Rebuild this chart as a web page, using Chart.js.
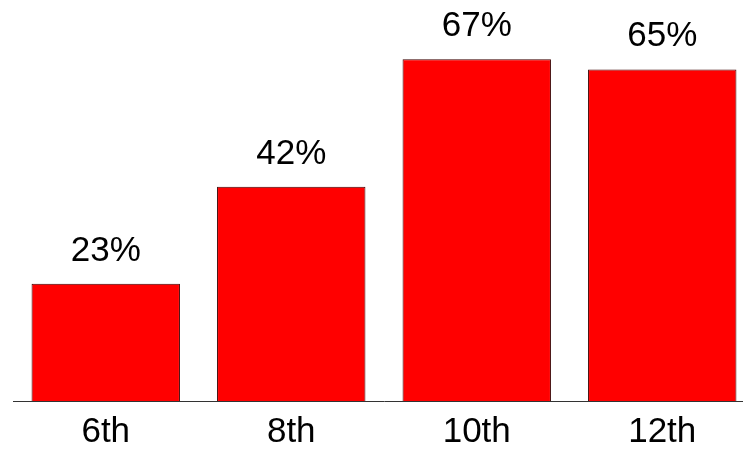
<!DOCTYPE html>
<html>
<head>
<meta charset="utf-8">
<script src="https://cdn.jsdelivr.net/npm/chart.js@4"></script>
<style>
  html, body { margin: 0; padding: 0; background: #fff; overflow: hidden; }
  #wrap { width: 755px; height: 449px; position: relative; }
</style>
</head>
<body>
<div id="wrap"><canvas id="myChart"></canvas></div>
<script>
const grades = ["6th", "8th", "10th", "12th"];
const percents = [23, 42, 67, 65];

// draws the "NN%" text above each bar
const barLabels = {
    id: "barLabels",
    afterDatasetsDraw(chart) {
        const c = chart.ctx;
        c.save();
        c.font = "35px 'Liberation Sans', Arial, sans-serif";
        c.fillStyle = "#000";
        c.textAlign = "center";
        c.textBaseline = "alphabetic";
        chart.getDatasetMeta(0).data.forEach((bar, i) => {
            c.fillText(percents[i] + "%", bar.x, bar.y - 23);
        });
        c.restore();
    },
};

const ctx = document.getElementById("myChart").getContext("2d");
const myChart = new Chart(ctx, {
    type: "bar",
    data: {
        labels: grades,
        datasets: [
            {
                data: percents,
                backgroundColor: "#ff0000",
                borderColor: "#3a0000",
                borderWidth: 1,
                barPercentage: 0.8,
                categoryPercentage: 1.0,
            },
        ],
    },
    options: {
        responsive: true,
        maintainAspectRatio: false,
        animation: false,
        layout: { padding: { left: 13, right: 0, top: 0, bottom: 0 } },
        plugins: {
            legend: { display: false },
            tooltip: { enabled: false },
        },
        scales: {
            x: {
                grid: { display: false, drawTicks: false },
                border: { display: true, color: "#333", width: 1 },
                ticks: {
                    color: "#000",
                    padding: 14,
                    font: { family: "'Liberation Sans', Arial, sans-serif", size: 35, lineHeight: 1 },
                },
                afterFit(scale) {
                    scale.height = 48;
                },
            },
            y: {
                display: false,
                min: 0,
                max: 78.6,
            },
        },
    },
    plugins: [barLabels],
});
</script>
</body>
</html>
